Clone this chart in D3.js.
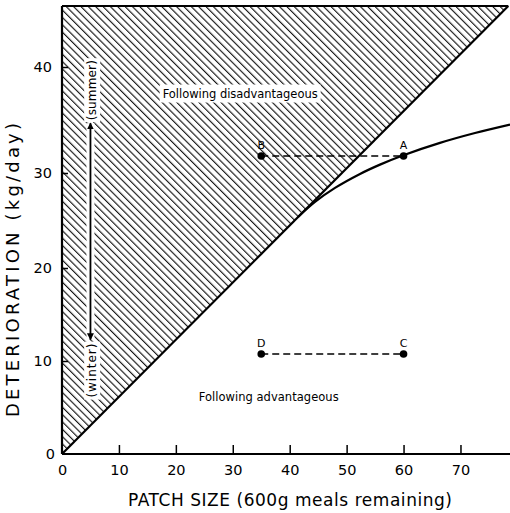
<!DOCTYPE html>
<html><head><meta charset="utf-8">
<script src="https://cdn.jsdelivr.net/npm/d3@7"></script>
<style>html,body{margin:0;padding:0;background:#fff}svg{display:block}</style>
</head><body>
<script>
// ---- data ----
const xTicks = [0,10,20,30,40,50,60,70];
const yTicks = [0,10,20,30,40];
const xMax = 78.7, yMax = 45.75;
const boundary = [[0,0],[78.4,45.75]];
const curveX = [41.46,44.44,47.96,52.35,55.86,59.73,66.40,72.55,78.70];
const curveY = [25.37,26.95,28.43,29.90,30.79,31.63,32.84,33.77,34.57];
const pointNames = ["A","B","C","D"];
const pointX = [60,35,60,35];
const pointY = [31.6,31.6,10.75,10.75];
const pairs = [["B","A"],["D","C"]];
const seasonX = 5, summerY = 34.7, winterY = 12.3;
const seasonLabels = ["(summer)","(winter)"];
const regionLabels = ["Following disadvantageous","Following advantageous"];
const regionX = [31.3, 36.3];
const regionY = [37.5, 6.1];

const W = 510, H = 513;
const svg = d3.select("body").append("svg").attr("width",W).attr("height",H);
const x = d3.scaleLinear().domain([0,xMax]).range([62,510]);
const y = d3.scaleLinear().domain([0,10,20,30,40,yMax]).range([454,361,268,173,67,6]);
const font = "'DejaVu Sans', sans-serif";

// hatch pattern
const defs = svg.append("defs");
const pat = defs.append("pattern").attr("id","hatch").attr("patternUnits","userSpaceOnUse")
  .attr("width",5.2).attr("height",5.2).attr("patternTransform","rotate(-45)");
pat.append("line").attr("x1",0.6).attr("y1",0).attr("x2",0.6).attr("y2",5.2)
  .attr("stroke","#000").attr("stroke-width",1.05);

const poly = [[0,0],boundary[1],[0,yMax]];
svg.append("path").attr("d", d3.line().x(d=>x(d[0])).y(d=>y(d[1]))(poly)+"Z")
  .attr("fill","url(#hatch)");

// white-backed text helper
function label(txt, px, py, size, rot, pad, len){
  const g = svg.append("g").attr("transform",`translate(${px},${py}) rotate(${rot||0})`);
  const bg = g.append("rect").attr("fill","#fff");
  const t = g.append("text").text(txt).attr("text-anchor","middle").attr("dy","0.35em")
    .attr("font-family",font).attr("font-size",size).attr("fill","#000");
  if (len) t.attr("textLength",len).attr("lengthAdjust","spacing");
  const b = t.node().getBBox();
  const p = pad||2;
  bg.attr("x",b.x-p).attr("y",b.y-p+1).attr("width",b.width+2*p).attr("height",b.height+2*p-2);
  return g;
}

// region labels
regionLabels.forEach((t,i)=>label(t, x(regionX[i]), y(regionY[i]), 11.5, 0, 3, i===0?155:140));

// season arrow
defs.append("marker").attr("id","arr").attr("viewBox","0 0 10 10").attr("refX",9).attr("refY",5)
  .attr("markerWidth",7).attr("markerHeight",10).attr("orient","auto-start-reverse")
  .attr("markerUnits","userSpaceOnUse")
  .append("path").attr("d","M0,0L10,5L0,10Z").attr("fill","#000");
svg.append("rect").attr("x",x(seasonX)-4).attr("y",y(summerY)).attr("width",8)
  .attr("height",y(winterY)-y(summerY)).attr("fill","#fff");
svg.append("line").attr("x1",x(seasonX)).attr("x2",x(seasonX)).attr("y1",y(summerY)).attr("y2",y(winterY))
  .attr("stroke","#000").attr("stroke-width",1.8)
  .attr("marker-start","url(#arr)").attr("marker-end","url(#arr)");
label(seasonLabels[0], x(seasonX)+1.5, y(summerY)-33, 12, -90, 2, 60);
label(seasonLabels[1], x(seasonX)+1.5, y(winterY)+31, 12, -90, 2, 54);

// boundary line
svg.append("line").attr("x1",x(boundary[0][0])).attr("y1",y(boundary[0][1]))
  .attr("x2",x(boundary[1][0])).attr("y2",y(boundary[1][1]))
  .attr("stroke","#000").attr("stroke-width",2.2);

// curve
const cdata = curveX.map((v,i)=>[v,curveY[i]]);
svg.append("path").attr("d", d3.line().x(d=>x(d[0])).y(d=>y(d[1])).curve(d3.curveCatmullRom.alpha(0.5))(cdata))
  .attr("fill","none").attr("stroke","#000").attr("stroke-width",2.2);

// dashed pairs
const pmap = {}; pointNames.forEach((n,i)=>pmap[n]=[pointX[i],pointY[i]]);
pairs.forEach(([a,b])=>{
  svg.append("line").attr("x1",x(pmap[a][0])).attr("y1",y(pmap[a][1]))
    .attr("x2",x(pmap[b][0])).attr("y2",y(pmap[b][1]))
    .attr("stroke","#000").attr("stroke-width",1.5).attr("stroke-dasharray","7,4");
});
pointNames.forEach((n,i)=>{
  svg.append("circle").attr("cx",x(pointX[i])).attr("cy",y(pointY[i])).attr("r",3.8).attr("fill","#000");
  svg.append("text").text(n).attr("x",x(pointX[i])).attr("y",y(pointY[i])-7)
    .attr("text-anchor","middle").attr("font-family",font).attr("font-size",11);
});

// axes
const xa = svg.append("g").attr("transform",`translate(0,${y(0)})`)
  .call(d3.axisBottom(x).tickValues(xTicks).tickSizeInner(-9).tickSizeOuter(0).tickPadding(6));
const ya = svg.append("g").attr("transform",`translate(${x(0)},0)`)
  .call(d3.axisLeft(y).tickValues(yTicks).tickSizeInner(-6).tickSizeOuter(0).tickPadding(10));
[xa,ya].forEach(a=>{
  a.select(".domain").attr("stroke-width",2.2);
  a.selectAll(".tick line").attr("stroke-width",1.5);
  a.selectAll(".tick text").attr("font-family",font).attr("font-size",14.5).attr("fill","#000");
});
xa.selectAll(".tick line").filter(d=>d===0).remove();
ya.selectAll(".tick line").filter(d=>d===0).remove();
xa.selectAll(".tick text").attr("dy","1.0em");
ya.selectAll(".tick text").filter(d=>d===0).attr("dx",3);
ya.select(".domain").attr("d",`M0,${y(0)}V${y(yMax)}`);
xa.select(".domain").attr("d",`M${x(0)},0H${x(xMax)}`);
// top border
svg.append("line").attr("x1",x(0)).attr("x2",x(boundary[1][0])).attr("y1",y(yMax)).attr("y2",y(yMax))
  .attr("stroke","#000").attr("stroke-width",2);

// axis titles
svg.append("text").text("PATCH SIZE (600g meals remaining)").attr("x",290).attr("y",506)
  .attr("text-anchor","middle").attr("font-family",font).attr("font-size",17)
  .attr("textLength",324).attr("lengthAdjust","spacing");
svg.append("text").text("DETERIORATION (kg/day)").attr("transform","translate(19,270) rotate(-90)")
  .attr("text-anchor","middle").attr("font-family",font).attr("font-size",18)
  .attr("textLength",294).attr("lengthAdjust","spacing");
</script>
</body></html>
